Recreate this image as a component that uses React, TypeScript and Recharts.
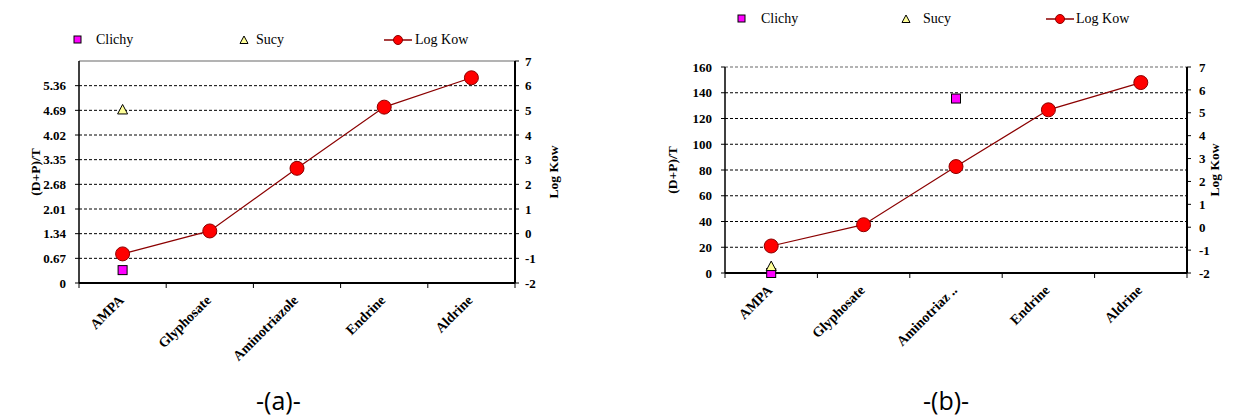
import React from 'react';
import { ComposedChart, Line, XAxis, YAxis, ReferenceLine, Legend } from 'recharts';

const categoriesA = ['AMPA', 'Glyphosate', 'Aminotriazole', 'Endrine', 'Aldrine'];
const categoriesB = ['AMPA', 'Glyphosate', 'Aminotriaz ..', 'Endrine', 'Aldrine'];
const seriesNames = ['Clichy', 'Sucy', 'Log Kow'];

const logKow = [-0.82, 0.11, 2.65, 5.13, 6.32];
const clichyA: (number | null)[] = [0.35, null, null, null, null];
const sucyA: (number | null)[] = [4.7, null, null, null, null];
const clichyB: (number | null)[] = [0, null, 135.5, null, null];
const sucyB: (number | null)[] = [5, null, null, null, null];

const leftTicksA = [0, 0.67, 1.34, 2.01, 2.68, 3.35, 4.02, 4.69, 5.36];
const leftMaxA = 6.03;
const leftTicksB = [0, 20, 40, 60, 80, 100, 120, 140, 160];
const leftMaxB = 160;
const rightTicks = [-2, -1, 0, 1, 2, 3, 4, 5, 6, 7];

const SERIF = 'Liberation Serif';

const buildRows = (clichy: (number | null)[], sucy: (number | null)[]) =>
  categoriesA.map((c, i) => ({ x: i + 0.5, name: c, clichy: clichy[i], sucy: sucy[i], logKow: logKow[i] }));

const rowsA = buildRows(clichyA, sucyA);
const rowsB = buildRows(clichyB, sucyB);

const xTicks = categoriesA.flatMap((_, i) => [i, i + 0.5]).concat([categoriesA.length]);

const makeXTick = (labels: string[]) => (props: any) => {
  const { x, y, payload, index } = props;
  const v = payload.value;
  if (Number.isInteger(v)) {
    return <line key={`t${index}`} x1={x} x2={x} y1={y} y2={y + 5} stroke="#000" strokeWidth={1} />;
  }
  const label = labels[Math.floor(v)];
  const px = x + 2;
  const py = y + 18;
  return (
    <text
      key={`l${index}`}
      x={px}
      y={py}
      transform={`rotate(-45 ${px} ${py})`}
      textAnchor="end"
      fontFamily={SERIF}
      fontSize={14}
      fontWeight="bold"
      fill="#000"
    >
      {label}
    </text>
  );
};

const squareDot = (props: any) => {
  const { cx, cy, index } = props;
  if (cy == null || cx == null || Number.isNaN(cy)) return <g key={`s${index}`} />;
  return <rect key={`s${index}`} x={cx - 4.5} y={cy - 4.5} width={9} height={9} fill="#FF00FF" stroke="#000" strokeWidth={1} />;
};

const triangleDot = (props: any) => {
  const { cx, cy, index } = props;
  if (cy == null || cx == null || Number.isNaN(cy)) return <g key={`tr${index}`} />;
  return (
    <polygon
      key={`tr${index}`}
      points={`${cx},${cy - 5.5} ${cx + 5},${cy + 4} ${cx - 5},${cy + 4}`}
      fill="#FFFF99"
      stroke="#000"
      strokeWidth={1}
    />
  );
};

const circleDot = (props: any) => {
  const { cx, cy, index } = props;
  if (cy == null || cx == null || Number.isNaN(cy)) return <g key={`c${index}`} />;
  return <circle key={`c${index}`} cx={cx} cy={cy} r={7} fill="#FF0000" stroke="#8B0000" strokeWidth={1} />;
};

type LegendPos = { icon: number; text: number; top: number };

const makeLegend = (pos: LegendPos[]) => (props: any) => {
  const payload = props.payload || [];
  const byKey: Record<string, string> = {};
  payload.forEach((p: any) => {
    byKey[p.dataKey] = p.value;
  });
  const keys = ['clichy', 'sucy', 'logKow'];
  return (
    <div style={{ position: 'relative', width: '100%', height: 20 }}>
      {keys.map((k, i) => {
        const p = pos[i];
        let icon: React.ReactNode;
        if (k === 'clichy') {
          icon = (
            <svg style={{ position: 'absolute', left: p.icon - 5, top: p.top - 5 }} width={10} height={10}>
              <rect x={1} y={1} width={7} height={7} fill="#FF00FF" stroke="#000" strokeWidth={1} />
            </svg>
          );
        } else if (k === 'sucy') {
          icon = (
            <svg style={{ position: 'absolute', left: p.icon - 5, top: p.top - 5 }} width={10} height={10}>
              <polygon points="5,1 9,8.5 1,8.5" fill="#FFFF99" stroke="#000" strokeWidth={1} />
            </svg>
          );
        } else {
          icon = (
            <svg style={{ position: 'absolute', left: p.icon - 14, top: p.top - 6 }} width={28} height={12}>
              <line x1={0} x2={28} y1={6} y2={6} stroke="#8B0000" strokeWidth={1.5} />
              <circle cx={14} cy={6} r={4.5} fill="#FF0000" stroke="#8B0000" strokeWidth={1} />
            </svg>
          );
        }
        return (
          <React.Fragment key={k}>
            {icon}
            <span
              style={{
                position: 'absolute',
                left: p.text,
                top: p.top - 9,
                fontFamily: SERIF,
                fontSize: 14,
                color: '#000',
                whiteSpace: 'nowrap',
                lineHeight: '18px',
              }}
            >
              {byKey[k] ?? seriesNames[i]}
            </span>
          </React.Fragment>
        );
      })}
    </div>
  );
};

const yLabel = (text: string, dx: number) => (props: any) => {
  const vb = props.viewBox || {};
  const cx = vb.x + dx;
  const cy = vb.y + vb.height / 2;
  return (
    <text
      x={cx}
      y={cy}
      transform={`rotate(-90 ${cx} ${cy})`}
      textAnchor="middle"
      dominantBaseline="central"
      fontFamily={SERIF}
      fontSize={13.5}
      fontWeight="bold"
      fill="#000"
    >
      {text}
    </text>
  );
};

const tickStyle = { fontFamily: SERIF, fontSize: 13, fontWeight: 'bold' as const, fill: '#000' };

type PanelProps = {
  rows: any[];
  labels: string[];
  leftTicks: number[];
  leftMax: number;
  leftFmt: (v: number) => string;
  width: number;
  margin: { top: number; right: number; bottom: number; left: number };
  leftWidth: number;
  leftLabelDx: number;
  rightLabelDx: number;
  rightTickMargin: number;
  legendPos: LegendPos[];
  topLineDashed: boolean;
};

function Panel(p: PanelProps) {
  return (
    <ComposedChart width={p.width} height={417} data={p.rows} margin={p.margin}>
      <XAxis
        type="number"
        dataKey="x"
        domain={[0, p.labels.length]}
        ticks={xTicks}
        interval={0}
        allowDecimals
        tickSize={0}
        tickMargin={0}
        height={100}
        axisLine={{ stroke: '#000', strokeWidth: 2 }}
        tickLine={false}
        tick={makeXTick(p.labels)}
      />
      <YAxis
        yAxisId="left"
        type="number"
        domain={[0, p.leftMax]}
        ticks={p.leftTicks}
        interval={0}
        width={p.leftWidth}
        tickSize={4}
        tickMargin={9}
        axisLine={{ stroke: '#000', strokeWidth: 1.5 }}
        tickLine={{ stroke: '#000' }}
        tick={tickStyle}
        tickFormatter={p.leftFmt}
        label={{ content: yLabel('(D+P)/T', p.leftLabelDx) }}
      />
      <YAxis
        yAxisId="right"
        orientation="right"
        type="number"
        domain={[-2, 7]}
        ticks={rightTicks}
        interval={0}
        width={40}
        tickSize={4}
        tickMargin={p.rightTickMargin}
        axisLine={{ stroke: '#000', strokeWidth: 2 }}
        tickLine={{ stroke: '#000' }}
        tick={{ ...tickStyle, textAnchor: 'start' }}
        label={{ content: yLabel('Log Kow', p.rightLabelDx) }}
      />
      {p.leftTicks
        .filter((t) => t > 0 && t < p.leftMax)
        .map((t) => (
          <ReferenceLine key={`g${t}`} yAxisId="left" y={t} stroke="#000" strokeWidth={1} strokeDasharray="3 2" />
        ))}
      <ReferenceLine
        yAxisId="left"
        y={p.leftMax}
        stroke="#9a9a9a"
        strokeWidth={1.5}
        strokeDasharray={p.topLineDashed ? '3 2' : undefined}
      />
      <Legend
        verticalAlign="middle"
        layout="horizontal"
        wrapperStyle={{ top: 0, left: 0, width: p.width, height: 20 }}
        content={makeLegend(p.legendPos)}
      />
      <Line
        yAxisId="left"
        dataKey="clichy"
        name={seriesNames[0]}
        stroke="none"
        dot={squareDot}
        activeDot={false}
        isAnimationActive={false}
        legendType="square"
      />
      <Line
        yAxisId="left"
        dataKey="sucy"
        name={seriesNames[1]}
        stroke="none"
        dot={triangleDot}
        activeDot={false}
        isAnimationActive={false}
        legendType="triangle"
      />
      <Line
        yAxisId="right"
        dataKey="logKow"
        name={seriesNames[2]}
        stroke="#8B0000"
        strokeWidth={1.2}
        dot={circleDot}
        activeDot={false}
        isAnimationActive={false}
      />
    </ComposedChart>
  );
}

const captionStyle: React.CSSProperties = {
  position: 'absolute',
  fontFamily: '"Open Sans", "Liberation Sans", sans-serif',
  fontSize: 25,
  color: '#000',
  lineHeight: '28px',
  whiteSpace: 'nowrap',
};

export default function App() {
  return (
    <div style={{ position: 'absolute', left: 0, top: 0, width: 1235, height: 417, background: '#fff' }}>
      <div style={{ position: 'absolute', left: 0, top: 0 }}>
        <Panel
          rows={rowsA}
          labels={categoriesA}
          leftTicks={leftTicksA}
          leftMax={leftMaxA}
          leftFmt={(v) => (v === 0 ? '0' : v.toFixed(2))}
          width={620}
          margin={{ top: 61, right: 65, bottom: 34, left: 39 }}
          leftWidth={40}
          leftLabelDx={-4}
          rightLabelDx={38}
          rightTickMargin={6}
          legendPos={[
            { icon: 78, text: 96, top: 40 },
            { icon: 244, text: 256, top: 40 },
            { icon: 398, text: 415, top: 40 },
          ]}
          topLineDashed={false}
        />
      </div>
      <div style={{ position: 'absolute', left: 620, top: 0 }}>
        <Panel
          rows={rowsB}
          labels={categoriesB}
          leftTicks={leftTicksB}
          leftMax={leftMaxB}
          leftFmt={(v) => String(v)}
          width={615}
          margin={{ top: 67, right: 8, bottom: 44, left: 45 }}
          leftWidth={60}
          leftLabelDx={7}
          rightLabelDx={27}
          rightTickMargin={8}
          legendPos={[
            { icon: 122, text: 141, top: 19 },
            { icon: 286, text: 303, top: 19 },
            { icon: 440, text: 456, top: 19 },
          ]}
          topLineDashed={true}
        />
      </div>
      <div style={{ ...captionStyle, left: 256, top: 386 }}>-(a)-</div>
      <div style={{ ...captionStyle, left: 923, top: 386 }}>-(b)-</div>
    </div>
  );
}
